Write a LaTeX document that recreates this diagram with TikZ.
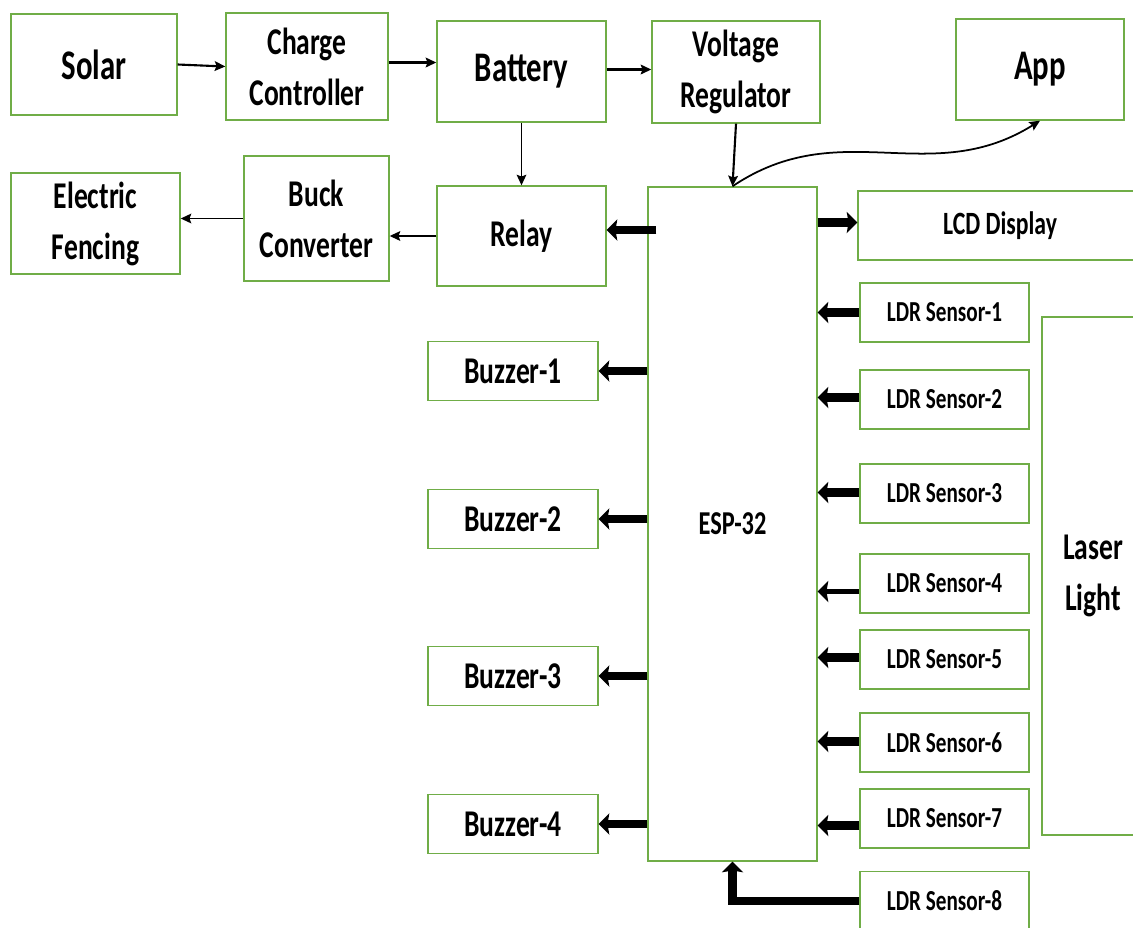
\documentclass[tikz,border=0pt]{standalone}
\usepackage{fontspec}
\usetikzlibrary{arrows.meta,calc}
\newfontfamily\blockfont{Carlito}[FakeStretch=0.73]
\definecolor{boxStroke}{HTML}{70AD47}

\begin{document}
\begin{tikzpicture}[
    x=0.02cm, y=-0.02cm,
    >=Stealth,
    blk/.style={
        rectangle, draw=boxStroke, line width=0.8pt,
        fill=white, inner sep=0pt, align=center
    },
    boxSize/.style 2 args={minimum width=#1*0.02cm, minimum height=#2*0.02cm},
    bigLabel/.style={font=\blockfont\bfseries\fontsize{24}{28}\selectfont},
    midLabel/.style={font=\blockfont\bfseries\fontsize{21.5}{29}\selectfont},
    espLabel/.style={font=\blockfont\bfseries\fontsize{19}{23}\selectfont},
    lcdLabel/.style={font=\blockfont\bfseries\fontsize{18.5}{22}\selectfont},
    smallLabel/.style={font=\blockfont\bfseries\fontsize{16.5}{19}\selectfont},
    wire/.style={->, line width=1pt, >={Stealth[length=6pt,width=5.5pt,inset=1pt]}},
    fat/.style={->, line width=5pt, >={Stealth[length=6pt,width=12pt,inset=1pt]}}
]
\clip (0,0) rectangle (1133,927);

% Power chain along the top, ESP-32 in the middle column
\node[blk, boxSize={166}{101}, bigLabel] (Solar) at (94,64.5) {Solar};
\node[blk, boxSize={162}{107}, midLabel] (Charge) at (307,66.5) {Charge\\Controller};
\node[blk, boxSize={169}{101}, bigLabel] (Battery) at (521.5,71.5) {Battery};
\node[blk, boxSize={168}{102}, midLabel] (Regulator) at (736,72) {Voltage\\Regulator};
\node[blk, boxSize={168}{101}, bigLabel] (App) at (1040,69.5) {App};
\node[blk, boxSize={169}{101}, midLabel] (Fencing) at (95.5,223.5) {Electric\\Fencing};
\node[blk, boxSize={145}{125}, midLabel] (Buck) at (316.5,218.5) {Buck\\Converter};
\node[blk, boxSize={169}{100}, midLabel] (Relay) at (521.5,236) {Relay};
\node[blk, boxSize={169}{674}, espLabel] (ESP) at (732.5,524) {ESP-32};
\node[blk, boxSize={284}{69}, lcdLabel] (LCD) at (1000,225.5) {LCD Display};
\node[blk, boxSize={102}{518}, midLabel] (Laser) at (1093,576) {Laser\\Light};

\foreach \i/\y in {1/371,2/519,3/676,4/824}
  \node[blk, boxSize={170}{59}, midLabel] (Buzzer\i) at (513,\y) {Buzzer-\i};
\foreach \i/\y in {1/312.5,2/399.5,3/493.5,4/583.5,5/659.5,6/742.5,7/818.5,8/901}
  \node[blk, boxSize={169}{59}, smallLabel] (LDR\i) at (944.5,\y) {LDR Sensor-\i};

\draw[wire, line width=1.2pt] (Solar.east) -- (Charge.west);
\draw[wire, line width=1.6pt] ($(Charge.east)+(0,-4)$) -- ($(Charge.east -| Battery.west)+(0,-4)$);
\draw[wire, line width=1.2pt] ($(Battery.east)+(0,-2)$) -- ($(Battery.east -| Regulator.west)+(0,-2)$);
\draw[wire, line width=0.8pt] (Battery.south) -- (Relay.north);
\draw[wire, line width=1.2pt] (Regulator.south) -- (ESP.north);
\draw[wire] (ESP.north) .. controls +(34:2.6cm) and +(212:2.6cm) .. (App.south);
\draw[wire] (Relay.west) -- (Relay.west -| Buck.east);
\draw[wire] (Buck.west) -- (Buck.west -| Fencing.east);

\draw[fat] ($(ESP.west |- Relay.east)+(9,-6)$) -- ($(Relay.east)+(0,-6)$);
\draw[fat] ($(ESP.east |- LCD.west)+(0,-3)$) -- ($(LCD.west)+(0,-3)$);
\foreach \i in {1,...,4}
  \draw[fat] (Buzzer\i.east -| ESP.west) -- (Buzzer\i.east);
\foreach \i/\d/\w in {1/0/5,2/-2/5,3/-1/5,4/8/3,5/-2/5,6/-1/5,7/7/5}
  \draw[fat, line width=\w pt] ($(LDR\i.west)+(0,\d)$) -- ($(LDR\i.west -| ESP.east)+(0,\d)$);
\draw[fat] (LDR8.west) -| (ESP.south);

\end{tikzpicture}
\end{document}
